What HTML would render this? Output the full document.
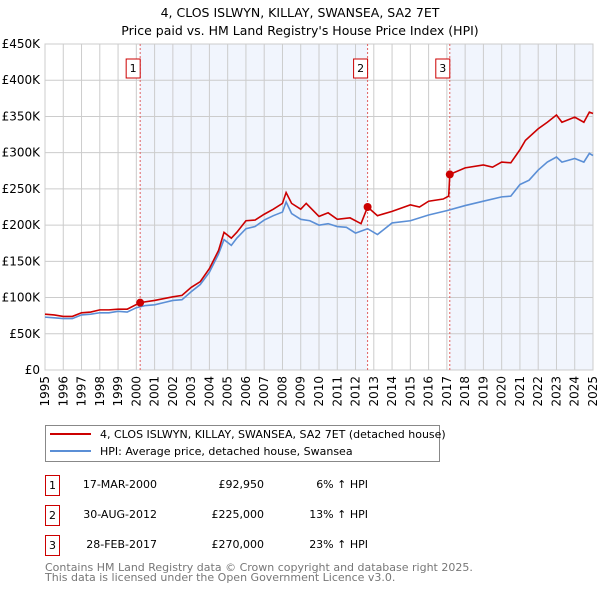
<!DOCTYPE html>
<html><head><meta charset="utf-8"><style>
body{margin:0;background:#fff;width:600px;height:590px;overflow:hidden;font-family:"Liberation Sans","DejaVu Sans",sans-serif;}
svg text{font-family:"DejaVu Sans","Liberation Sans",sans-serif;}
</style></head><body>
<svg id="chart" width="600" height="590">
<text x="300" y="17" text-anchor="middle" font-size="12.5">4, CLOS ISLWYN, KILLAY, SWANSEA, SA2 7ET</text>
<text x="300" y="35" text-anchor="middle" font-size="12.5">Price paid vs. HM Land Registry's House Price Index (HPI)</text>
<g id="plot"></g>
<g>
<rect x="45.5" y="425.5" width="394" height="36" fill="#fff" stroke="#888"/>
<line x1="50" y1="434" x2="91" y2="434" stroke="#cc0000" stroke-width="2"/>
<text x="100" y="438" font-size="11">4, CLOS ISLWYN, KILLAY, SWANSEA, SA2 7ET (detached house)</text>
<line x1="50" y1="451" x2="91" y2="451" stroke="#5b8fd6" stroke-width="2"/>
<text x="100" y="455" font-size="11">HPI: Average price, detached house, Swansea</text>
</g>
<g font-size="11">
<rect x="45.5" y="475.5" width="14" height="20" fill="#fff" stroke="#cc0000"/><text x="52.5" y="489" text-anchor="middle">1</text>
<text x="157" y="488" text-anchor="end">17-MAR-2000</text><text x="264" y="488" text-anchor="end">£92,950</text><text x="368" y="488" text-anchor="end">6% ↑ HPI</text>
<rect x="45.5" y="505.5" width="14" height="20" fill="#fff" stroke="#cc0000"/><text x="52.5" y="519" text-anchor="middle">2</text>
<text x="157" y="518" text-anchor="end">30-AUG-2012</text><text x="264" y="518" text-anchor="end">£225,000</text><text x="368" y="518" text-anchor="end">13% ↑ HPI</text>
<rect x="45.5" y="535.5" width="14" height="20" fill="#fff" stroke="#cc0000"/><text x="52.5" y="549" text-anchor="middle">3</text>
<text x="157" y="548" text-anchor="end">28-FEB-2017</text><text x="264" y="548" text-anchor="end">£270,000</text><text x="368" y="548" text-anchor="end">23% ↑ HPI</text>
</g>
<text x="45" y="571" font-size="11" fill="#777">Contains HM Land Registry data © Crown copyright and database right 2025.</text>
<text x="45" y="581" font-size="11" fill="#777">This data is licensed under the Open Government Licence v3.0.</text>
</svg>
<script>
const yTicks=[0,50,100,150,200,250,300,350,400,450];
const yTickLabels=["£0","£50K","£100K","£150K","£200K","£250K","£300K","£350K","£400K","£450K"];
const years=[1995,1996,1997,1998,1999,2000,2001,2002,2003,2004,2005,2006,2007,2008,2009,2010,2011,2012,2013,2014,2015,2016,2017,2018,2019,2020,2021,2022,2023,2024,2025];
const hpiT=[1995,1995.5,1996,1996.5,1997,1997.5,1998,1998.5,1999,1999.5,2000,2000.5,2001,2001.5,2002,2002.5,2003,2003.5,2004,2004.5,2004.8,2005.2,2005.5,2006,2006.5,2007,2007.5,2008,2008.2,2008.5,2009,2009.5,2010,2010.5,2011,2011.5,2012,2012.66,2013.2,2014,2015,2016,2017,2018,2019,2020,2020.5,2021,2021.5,2022,2022.5,2023,2023.3,2024,2024.5,2024.8,2025];
const hpiV=[73,72,71,71,76,77,79,79,81,80,86,89,90,93,96,97,108,118,135,160,180,172,182,195,198,207,213,218,232,216,208,206,200,202,198,197,189,195,187,203,206,214,220,227,233,239,240,256,262,276,287,294,287,292,287,299,296];
const redT=[1995,1995.5,1996,1996.5,1997,1997.5,1998,1998.5,1999,1999.5,2000.2,2001,2002,2002.5,2003,2003.5,2004,2004.5,2004.8,2005.2,2005.5,2006,2006.5,2007,2007.5,2008,2008.2,2008.5,2009,2009.3,2010,2010.5,2011,2011.7,2012.3,2012.66,2013.2,2014,2015,2015.5,2016,2016.8,2017.1,2017.16,2018,2019,2019.5,2020,2020.5,2021,2021.3,2022,2022.5,2023,2023.3,2024,2024.5,2024.8,2025];
const redV=[77,76,74,74,79,80,83,83,84,84,93,96,101,103,114,122,140,165,190,182,190,206,207,215,222,230,245,230,222,230,212,217,208,210,202,225,213,219,228,225,233,236,240,270,279,283,280,287,286,304,317,333,342,352,342,349,342,356,354];
const saleT=[2000.21,2012.66,2017.16];
const saleV=[92.95,225,270];
const saleLabels=["1","2","3"];
const NS="http://www.w3.org/2000/svg";
const X0=45,X1=593,Y0=370,Y1=44;
const xs=t=>X0+(t-1995)/30*(X1-X0);
const ys=v=>Y0-v/450*(Y0-Y1);
const g=document.getElementById('plot');
function mk(tag,attrs){const e=document.createElementNS(NS,tag);for(const k in attrs)e.setAttribute(k,attrs[k]);g.appendChild(e);return e;}
// shading
const bounds=[1995].concat(saleT).concat([2025]);
for(let i=0;i<bounds.length-1;i++){
 const r=mk('rect',{x:xs(bounds[i]),y:Y1,width:xs(bounds[i+1])-xs(bounds[i]),height:Y0-Y1,fill:i%2?'#f1f5fd':'#fff'});
 
 
}
yTicks.forEach((v,i)=>{
 const l=mk('line',{x1:X0,x2:X1,y1:ys(v),y2:ys(v),stroke:'#ccc'});
 
 
 const t=mk('text',{x:40,y:ys(v)+4,'text-anchor':'end','font-size':'12'});
 t.textContent=yTickLabels[i];
 
 
});
years.forEach(y=>{
 const l=mk('line',{x1:xs(y),x2:xs(y),y1:Y1,y2:Y0,stroke:'#ccc'});
 
 
 const t=mk('text',{x:0,y:0,'text-anchor':'end','font-size':'12',transform:`translate(${xs(y)+4},376) rotate(-90)`});
 t.textContent=y;
 
 
});
const fr=mk('rect',{x:X0,y:Y1,width:X1-X0,height:Y0-Y1,fill:'none',stroke:'#ccc'});


saleT.forEach((t,i)=>{
 const l=mk('line',{x1:xs(t),x2:xs(t),y1:Y1,y2:Y0,stroke:'#e06060','stroke-dasharray':'2,2'});
 
 
 const b=mk('rect',{x:xs(t)-14,y:59,width:14,height:19,fill:'#fff',stroke:'#cc0000'});
 
 
 const tx=mk('text',{x:xs(t)-7,y:72,'text-anchor':'middle','font-size':'11'});
 tx.textContent=saleLabels[i];
 
 
});
const hp=mk('polyline',{points:hpiT.map((t,i)=>xs(t)+','+ys(hpiV[i])).join(' '),fill:'none',stroke:'#5b8fd6','stroke-width':'1.6'});


const rp=mk('polyline',{points:redT.map((t,i)=>xs(t)+','+ys(redV[i])).join(' '),fill:'none',stroke:'#cc0000','stroke-width':'1.6'});


saleT.forEach((t,i)=>{
 const c=mk('circle',{cx:xs(t),cy:ys(saleV[i]),r:4,fill:'#cc0000'});
 
 
});
</script>
</body></html>
